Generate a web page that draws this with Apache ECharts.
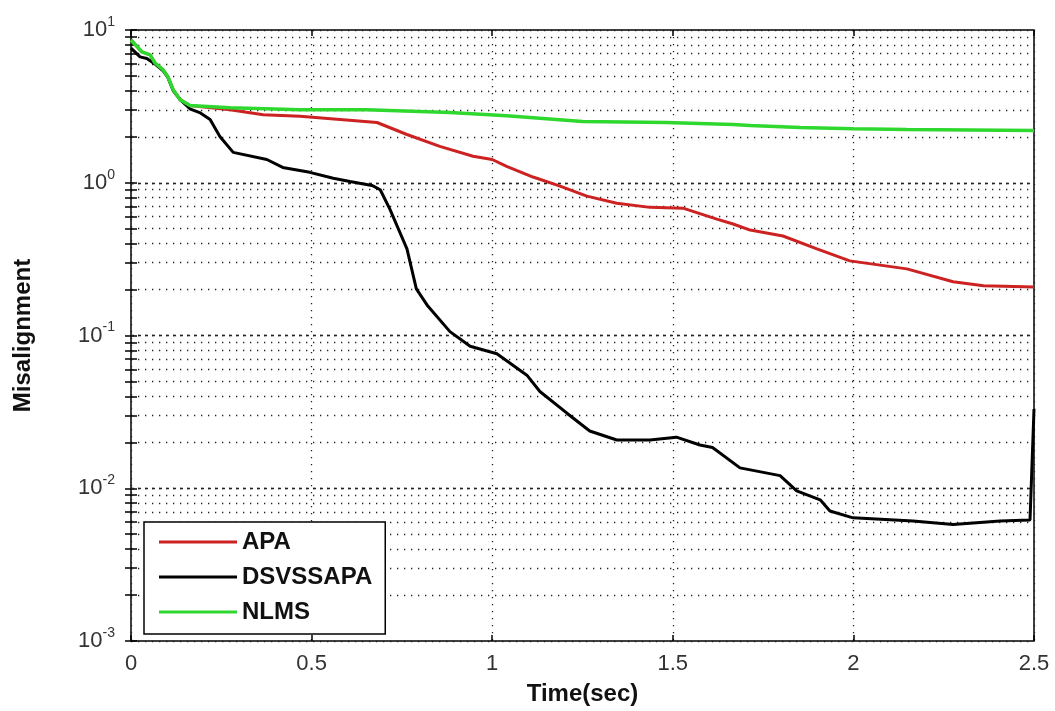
<!DOCTYPE html>
<html>
<head>
<meta charset="utf-8">
<script src="https://cdn.jsdelivr.net/npm/echarts@6/dist/echarts.min.js"></script>
<style>
  html, body { margin: 0; padding: 0; background: #fff; }
  #chart { width: 1055px; height: 711px; }
</style>
</head>
<body>
<div id="chart"></div>
<script>
// data (time in sec, misalignment)
var apaTime = [0, 0.03, 0.053, 0.066, 0.089, 0.102, 0.117, 0.136, 0.163, 0.274, 0.366, 0.468, 0.681, 0.764, 0.855, 0.947, 1.0, 1.04, 1.113, 1.188, 1.262, 1.345, 1.437, 1.528, 1.622, 1.667, 1.714, 1.805, 1.899, 1.99, 2.148, 2.276, 2.36, 2.5];
var apaValue = [8.6, 7.2, 6.87, 6.1, 5.48, 4.94, 4.06, 3.5, 3.2, 3.01, 2.79, 2.72, 2.48, 2.07, 1.73, 1.49, 1.42, 1.28, 1.09, 0.95, 0.817, 0.734, 0.69, 0.682, 0.578, 0.537, 0.49, 0.448, 0.369, 0.308, 0.273, 0.225, 0.212, 0.208];

var dsvTime = [0, 0.025, 0.044, 0.066, 0.089, 0.102, 0.117, 0.136, 0.163, 0.19, 0.219, 0.246, 0.283, 0.376, 0.42, 0.495, 0.56, 0.606, 0.667, 0.69, 0.717, 0.764, 0.79, 0.82, 0.883, 0.939, 1.013, 1.096, 1.132, 1.207, 1.27, 1.345, 1.437, 1.51, 1.575, 1.61, 1.686, 1.797, 1.843, 1.908, 1.935, 1.999, 2.165, 2.276, 2.406, 2.489, 2.5];
var dsvValue = [7.6, 6.67, 6.5, 6.0, 5.4, 4.9, 4.0, 3.5, 3.05, 2.88, 2.59, 2.01, 1.58, 1.42, 1.26, 1.17, 1.07, 1.02, 0.96, 0.9, 0.67, 0.369, 0.202, 0.158, 0.106, 0.085, 0.076, 0.055, 0.043, 0.031, 0.0237, 0.0207, 0.0207, 0.0216, 0.0192, 0.0185, 0.0136, 0.0121, 0.0096, 0.0084, 0.0071, 0.0064, 0.0061, 0.0058, 0.0061, 0.0062, 0.033];

var nlmsTime = [0, 0.03, 0.053, 0.066, 0.089, 0.102, 0.117, 0.136, 0.163, 0.274, 0.468, 0.653, 0.883, 1.04, 1.25, 1.48, 1.667, 1.714, 1.852, 2.0, 2.148, 2.5];
var nlmsValue = [8.6, 7.2, 6.87, 6.1, 5.48, 4.94, 4.06, 3.5, 3.2, 3.1, 3.01, 3.01, 2.88, 2.75, 2.52, 2.48, 2.41, 2.37, 2.3, 2.26, 2.23, 2.2];

var seriesNames = ['APA', 'DSVSSAPA', 'NLMS'];
var decades = [0.001, 0.01, 0.1, 1, 10];

// log grid positions 1..9 x each decade
var logTicks = [];
for (var d = 0; d < decades.length - 1; d++) {
    for (var m = 1; m <= 9; m++) {
        logTicks.push(+(decades[d] * m).toPrecision(3));
    }
}
logTicks.push(10);

function zip(t, v) {
    var out = [];
    for (var i = 0; i < t.length; i++) out.push([t[i], v[i]]);
    return out;
}

var dotted = { color: '#222', width: 1.3, type: [1.3, 5.7] };
var font = 'Liberation Sans, Arial, sans-serif';

var chart = echarts.init(document.getElementById('chart'));

option = {
    backgroundColor: '#fff',
    animation: false,
    color: ['#cc2222', '#000000', '#2fd82f'],
    grid: {
        left: 131, right: 21, top: 30, bottom: 67,
        show: true, borderColor: '#000', borderWidth: 1.5, backgroundColor: 'transparent'
    },
    legend: {
        orient: 'vertical',
        left: 144, top: 522,
        data: seriesNames,
        icon: 'rect',
        itemWidth: 78, itemHeight: 3,
        itemGap: 11,
        padding: [8, 13, 10, 15],
        backgroundColor: '#fff',
        borderColor: '#000', borderWidth: 1.5,
        textStyle: { fontSize: 24, fontWeight: 'bold', color: '#111', fontFamily: font, lineHeight: 24 }
    },
    xAxis: [
        {
            type: 'value', min: 0, max: 2.5, interval: 0.5,
            name: 'Time(sec)', nameLocation: 'middle', nameGap: 41,
            nameTextStyle: { fontSize: 24, fontWeight: 'bold', color: '#111', fontFamily: font },
            axisLine: { show: false },
            axisTick: { inside: true, length: 6, lineStyle: { color: '#000', width: 1.5 } },
            axisLabel: { fontSize: 22, color: '#333', margin: 12, fontFamily: font,
                formatter: function (v) { return String(v); } },
            splitLine: { show: true, lineStyle: dotted }
        },
        {
            type: 'value', min: 0, max: 2.5, interval: 0.5, position: 'top',
            axisLine: { show: false },
            axisTick: { inside: true, length: 6, lineStyle: { color: '#000', width: 1.5 } },
            axisLabel: { show: false },
            splitLine: { show: false }
        }
    ],
    yAxis: [
        {
            type: 'log', logBase: 10, min: 0.001, max: 10,
            name: 'Misalignment', nameLocation: 'middle', nameGap: 96, nameRotate: 90,
            nameTextStyle: { fontSize: 24, fontWeight: 'bold', color: '#111', fontFamily: font },
            axisLine: { show: false },
            axisTick: { inside: true, length: 6, customValues: logTicks, lineStyle: { color: '#000', width: 1.5 } },
            axisLabel: {
                customValues: decades, margin: 16, color: '#333', fontFamily: font,
                formatter: function (v) {
                    return '{b|10}{s|' + Math.round(Math.log10(v)) + '}';
                },
                rich: {
                    b: { fontSize: 22, color: '#333', fontFamily: font },
                    s: { fontSize: 14, color: '#333', fontFamily: font, padding: [0, 0, 16, 0] }
                }
            },
            splitLine: { show: true, lineStyle: dotted }
        },
        {
            type: 'log', logBase: 10, min: 0.001, max: 10, position: 'right',
            axisLine: { show: false },
            axisTick: { inside: true, length: 6, customValues: logTicks, lineStyle: { color: '#000', width: 1.5 } },
            axisLabel: { show: false },
            splitLine: { show: false }
        }
    ],
    series: [
        {
            name: seriesNames[0], type: 'line', showSymbol: false, symbol: 'none',
            lineStyle: { width: 3 }, data: zip(apaTime, apaValue), z: 3,
            // the decade grid lines look denser in the original
            markLine: {
                silent: true, symbol: 'none', label: { show: false }, z: 1,
                lineStyle: { color: '#222', width: 1.3, type: [3, 4] },
                data: [{ yAxis: 0.01 }, { yAxis: 0.1 }, { yAxis: 1 }]
            }
        },
        {
            name: seriesNames[1], type: 'line', showSymbol: false, symbol: 'none',
            lineStyle: { width: 3 }, data: zip(dsvTime, dsvValue), z: 4
        },
        {
            name: seriesNames[2], type: 'line', showSymbol: false, symbol: 'none',
            lineStyle: { width: 3.5 }, data: zip(nlmsTime, nlmsValue), z: 5
        }
    ]
};

chart.setOption(option);
</script>
</body>
</html>
